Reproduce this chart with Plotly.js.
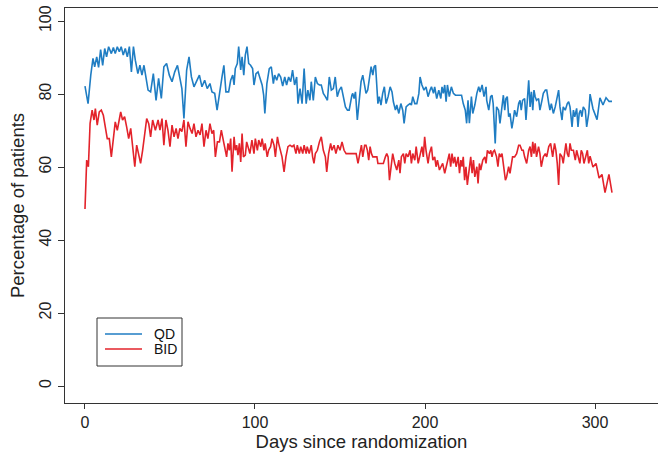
<!DOCTYPE html>
<html>
<head>
<meta charset="utf-8">
<script src="https://cdn.plot.ly/plotly-3.0.1.min.js"></script>
<style>html,body{margin:0;padding:0;background:#fff;}#chart{width:658px;height:461px;}</style>
</head>
<body>
<div id="chart"></div>
<script>
// QD series (blue): day, percentage
const qdDays = [0,1.8,3.4,4.7,5.7,6.9,8.0,9.2,10.4,11.6,12.7,13.9,15.5,16.7,17.8,19.0,20.2,21.3,22.5,23.7,24.9,26.1,27.3,28.5,29.6,31.1,32.3,33.5,34.7,35.9,37.1,38.6,40.2,41.8,43.3,44.9,46.4,48.0,49.6,51.2,52.8,54.4,55.8,57.0,58.2,59.8,61.2,62.6,64.1,65.7,67.3,68.8,70.4,71.9,73.5,
74.7,76.3,77.7,79.1,80.6,81.7,82.9,84.5,85.7,86.9,87.7,88.4,89.6,90.4,91.6,92.4,93.4,94.3,95.3,96.3,97.4,98.6,99.4,100.6,101.8,103.0,104.2,105.1,105.8,107.0,108.4,109.6,110.8,111.6,112.8,113.9,115.1,116.3,117.5,118.6,119.8,121.0,122.1,123.3,124.5,125.3,126.5,127.7,128.9,130.1,131.1,132.3,133.1,134.3,135.5,136.7,137.9,139.0,140.2,141.4,142.6,143.7,144.9,146.1,147.2,148.4,149.6,150.8,152.0,153.2,154.4,155.4,157.0,
157.5,158.3,159.1,160.2,161.4,162.4,163.4,164.3,165.3,166.3,167.3,168.3,169.3,170.1,170.9,171.7,172.3,173.1,174.1,175.1,176.1,177.1,178.3,179.5,180.6,181.4,182.6,183.4,184.6,185.8,186.9,187.7,188.9,190.0,191.2,192.0,192.8,194.0,195.2,196.4,197.1,198.2,199.4,200.6,201.8,203.0,203.8,205.0,205.7,206.9,208.1,209.3,210.0,210.8,211.6,212.4,213.2,214.3,215.5,216.7,217.9,219.1,220.3,221.5,222.5,223.7,224.5,225.3,226.1,227.3,228.1,229.3,230.5,231.6,232.4,233.6,234.7,235.9,
236.3,237.5,238.6,239.4,240.1,241.3,242.1,243.3,244.1,245.3,246.1,246.9,247.6,248.4,249.2,250.0,251.1,251.9,252.7,253.9,255.1,255.9,256.6,257.4,258.6,259.4,260.2,261.0,261.8,262.6,263.4,264.1,264.8,265.6,266.8,267.6,268.8,269.6,270.8,271.6,272.8,273.5,274.3,275.5,276.6,277.8,278.6,279.4,280.6,281.3,282.5,283.7,284.5,285.3,286.5,287.3,288.1,289.2,290.0,290.7,291.5,292.3,293.1,294.3,295.1,296.3,297.1,298.8,301.2,302.9,304.7,306.5,308.3,310.0];
const qdValues = [82.2,77.4,85.2,89.8,87.5,90.2,87.3,92.2,87.9,92.5,90.2,93,91.1,92.8,91.1,93,91.6,93,90.7,92.5,90.2,93,86.1,93,89.3,85.6,87.9,85.2,87.9,83.8,81.1,80.6,85.6,78.3,84.3,78.8,87.5,88.4,85.2,83.4,86.1,87.9,84.3,81.5,73.3,86.6,90.2,84.7,82,83.4,85.2,82,83.8,81.5,82.9,
80.6,80.2,75.6,80.6,84.7,87.9,80.6,80.6,83.8,85.2,82.5,87,88.4,93,86.6,90.2,85.2,90.7,93,88.4,87.9,87,82.5,85.6,86.1,84.3,82.5,79.7,74.7,82.9,87,87.5,82.9,85.2,83.8,85.6,84.7,82.2,84.7,82.5,84.7,83.4,86.6,82.5,84.7,77.4,81.5,77.4,87,77.4,81.1,78.3,83.4,78.3,84.7,82.9,82.5,82.5,80.2,79.3,78.3,84.7,81.1,81.5,84.7,79.3,81.1,82,78.8,76.5,75.6,75.6,79.7,
80.2,78.8,80.6,72.9,79.3,83.4,85.2,82.9,80.2,81.1,84.7,87.5,85.2,87.5,87.9,80.2,77.4,79.3,77,80.2,82,77.4,79.3,82,80.6,77.9,75.6,77,74.7,77.4,75.6,72,76.5,77,77.4,77,79.3,77.4,77.4,80.2,84.7,82.5,81.1,82,79.3,81.1,82,80.2,82,78.8,81.1,78.8,82,80.2,82.5,77.9,82.5,79.3,82,80.2,79.7,79.7,79.7,79.7,77.4,75.6,72,78.3,72,79.3,74.7,77,80.2,82,80.6,82.5,79.3,82,
78.3,75.6,79.3,79.7,77.4,66.5,76.5,75.6,72,77.4,79.7,75.6,78.8,79.3,73.8,74.7,70.6,72.9,75.6,73.8,77.4,78.3,75.6,78.3,78.8,72.9,78.8,83.8,76.5,80.6,75.6,81.1,79.3,78.3,78.8,75.6,78.3,80.2,81.1,81.1,77.4,75.6,77.4,74.7,76.5,79.3,81.1,76.5,72.9,76.5,75.6,77.4,77.9,76.5,71,75.6,73.8,76.1,71,74.7,75.6,73.8,76.5,75.6,71,74.7,80,76,73,79,77,79,78,78];

// BID series (red): day, percentage
const bidDays = [0,1.0,2.0,3.0,4.2,5.3,6.1,7.2,8.4,9.6,10.8,12.0,13.1,14.3,15.5,16.7,17.8,19.0,20.2,21.0,22.1,23.3,24.5,25.7,26.9,28.1,29.3,30.4,31.6,32.7,33.9,35.1,36.3,37.5,38.6,39.8,41.4,43.0,44.1,45.3,46.4,47.6,48.8,50.0,51.2,52.4,53.6,54.7,55.8,57.0,58.2,59.4,60.6,61.8,63.0,64.1,65.3,66.5,67.7,68.8,70.0,71.2,72.3,73.5,
74.7,75.7,76.7,77.9,79.1,80.2,81.1,82.1,83.3,84.1,84.9,85.7,86.5,87.7,88.4,89.2,90.0,90.8,91.6,92.4,93.2,94.3,95.1,95.9,97.0,98.2,99.4,100.2,101.4,102.2,103.4,104.2,105.3,106.0,107.2,108.0,109.2,110.0,111.2,112.0,113.2,113.9,115.1,115.9,117.1,118.2,119.4,120.6,121.8,122.9,124.1,124.9,126.1,126.9,128.1,128.9,130.1,130.7,131.9,133.1,133.9,134.7,135.5,136.7,137.9,139.0,140.2,141.4,142.2,143.3,144.5,145.3,146.5,147.6,148.8,150.0,151.2,152.4,153.6,154.8,157.0,
157.5,159.5,160.6,161.8,162.6,163.4,164.5,165.3,166.1,166.9,167.7,168.5,169.3,170.5,171.7,172.3,173.1,174.3,175.5,176.7,177.5,178.3,179.1,180.3,181.0,182.2,183.4,184.6,185.3,186.1,187.3,188.1,188.9,190.0,191.2,192.0,192.8,194.0,194.8,196.0,197.1,198.2,199.0,199.8,200.6,201.8,202.6,203.8,204.6,205.7,206.5,207.3,208.5,209.6,210.4,211.6,212.4,213.6,214.3,215.1,215.9,216.7,217.5,218.3,219.5,220.3,221.1,221.8,222.5,223.3,224.1,224.9,226.1,226.9,227.7,228.5,229.3,230.5,231.2,232.0,232.8,234.0,235.2,235.9,
236.7,237.9,238.7,239.4,240.1,240.9,242.1,242.9,243.7,244.5,245.3,246.5,247.3,248.0,249.2,250.0,250.8,251.5,252.7,253.9,255.1,255.9,257.0,257.8,258.6,259.8,261.0,261.8,262.6,263.4,264.1,264.8,265.6,266.8,267.6,268.4,269.6,270.8,271.6,272.8,273.9,275.1,276.2,277.0,277.8,278.6,279.4,280.6,281.3,282.1,282.9,283.7,284.5,285.3,286.1,287.3,288.4,289.2,290.3,291.1,291.9,292.7,293.5,294.7,295.5,296.3,297.1,298.8,300.6,302.4,304.1,305.9,308.2,310.0];
const bidValues = [48.5,61.9,60.1,72,75.6,72.9,76,71.5,75.1,75.6,74.2,71,67.8,67.8,62.8,67.8,72.4,70.1,73.3,75.1,72.9,73.8,71,67.8,70.6,64.2,60.1,66,62.8,61,64.6,68.8,73.3,71.9,68.3,72.9,70.1,72.9,70.1,73.3,66,72.9,70.1,65.6,71.5,68.3,70.6,67.8,70.6,69.7,72.9,65.6,72.4,70.6,69.2,71.9,68.3,70.1,68.8,71.9,65.6,70.1,67.8,71.9,
69.2,70.1,62.8,66.9,66.9,70.1,67.4,65.6,62.8,66.5,64.6,67.8,58.7,68.3,64.6,66,63.3,66.5,61.4,69.2,62.8,63.3,66.9,65.6,63.7,67.4,63.7,67.8,64.6,67.4,65.6,67.8,64.6,66.5,62.8,64.6,65.6,67.8,66,62.8,68.3,66.5,64.2,62.8,58.7,62.8,65.6,66,65.6,66,63.7,66,63.7,65.6,63.7,66,63.7,65.6,63.7,66,62.8,61,63.7,64.6,66.9,68.3,64.6,62.8,58.7,63.7,66.5,64.6,66,63.7,66,64.6,66.9,64.6,63.7,63.7,63.7,
63.7,63.7,61,64.6,66,62.8,66,66,64.6,61.9,65.6,63.7,62.8,62.8,62.8,61,61,61,61,62.8,63.7,62.8,56.4,61,63.7,61,59.2,61.9,58.3,62.8,63.7,61,63.7,62.8,64.6,61,63.7,61.9,65.6,61,63.7,65.6,62.8,68.3,64.6,61,63.7,65.6,61.9,62.8,60.1,61.9,59.2,60.1,61,58.3,60.1,61.9,63.7,60.1,63.7,61,62.8,60.1,62.8,58.3,61.9,60.1,62.8,56.4,60.1,55.1,61,62.8,58.3,61.9,57.3,60.1,55.5,61,59.2,61.9,62.8,61,
64.6,63.7,64.6,62.8,64.2,64.6,62.8,60.1,63.7,62.8,63.7,59.2,56.4,57.3,60.1,58.3,61,62.8,62.8,63.7,66,66,64.6,64.6,62.8,61,64.6,65.6,62.8,66.9,63.7,66.5,62.8,65.6,63.7,60.1,62.8,63.7,62.8,65.6,66.5,62.8,66.5,64.6,61,55.1,63.7,62.8,61,64.6,66.5,63.7,62.8,66.5,64.6,64.6,61.9,64.6,62.8,61,64.6,63.7,61,62.8,64.6,61,63,60,61,57,58,53,58,53];

const xTicks = [0, 100, 200, 300];
const yTicks = [0, 20, 40, 60, 80, 100];
const seriesNames = ['QD', 'BID'];
const seriesColors = ['#1f7dc3', '#e3232b'];

const font = 'Liberation Sans, Arial, sans-serif';
const traces = [
  {x: qdDays, y: qdValues, name: seriesNames[0], type: 'scatter', mode: 'lines',
   line: {color: seriesColors[0], width: 1.6}, showlegend: false},
  {x: bidDays, y: bidValues, name: seriesNames[1], type: 'scatter', mode: 'lines',
   line: {color: seriesColors[1], width: 1.6}, showlegend: false}
];

// framed key, placed in paper coordinates
const L = 65, W = 593, B = 403, H = 395;
const px = x => (x - L) / W, py = y => (B - y) / H;
const shapes = [
  {type: 'rect', xref: 'paper', yref: 'paper', x0: px(97), x1: px(182), y0: py(366), y1: py(318),
   line: {color: '#333', width: 1}, fillcolor: '#fff'}
];
const annotations = [];
seriesNames.forEach((nm, i) => {
  const yy = 334 + i * 15;
  shapes.push({type: 'line', xref: 'paper', yref: 'paper', x0: px(105), x1: px(142), y0: py(yy), y1: py(yy),
    line: {color: seriesColors[i], width: 1.6}});
  annotations.push({xref: 'paper', yref: 'paper', x: px(152), y: py(yy), xanchor: 'left', yanchor: 'middle',
    text: nm, showarrow: false, font: {family: font, size: 14, color: '#111'}});
});

const layout = {
  width: 658, height: 461,
  margin: {l: 65, r: 0, t: 8, b: 58},
  paper_bgcolor: '#fff', plot_bgcolor: '#fff',
  font: {family: font, color: '#222'},
  showlegend: false,
  shapes: shapes, annotations: annotations,
  xaxis: {range: [-11.76, 337.06], tickvals: xTicks, ticktext: xTicks.map(String),
    showgrid: false, zeroline: false, showline: true, linecolor: '#333', linewidth: 1.2,
    mirror: true, ticks: 'outside', ticklen: 5, tickcolor: '#333',
    tickfont: {family: font, size: 16, color: '#222'},
    title: {text: 'Days since randomization', font: {family: font, size: 18.5, color: '#222'}, standoff: 4}},
  yaxis: {range: [-4.66, 103.6], tickvals: yTicks, ticktext: yTicks.map(String),
    showgrid: false, zeroline: false, showline: true, linecolor: '#333', linewidth: 1.2,
    ticks: 'outside', ticklen: 6, tickcolor: '#333', tickangle: -90,
    tickfont: {family: font, size: 16, color: '#222'},
    title: {text: 'Percentage of patients', font: {family: font, size: 18.5, color: '#222'}, standoff: 8}}
};
Plotly.newPlot('chart', traces, layout, {displayModeBar: false, staticPlot: true});
</script>
</body>
</html>
